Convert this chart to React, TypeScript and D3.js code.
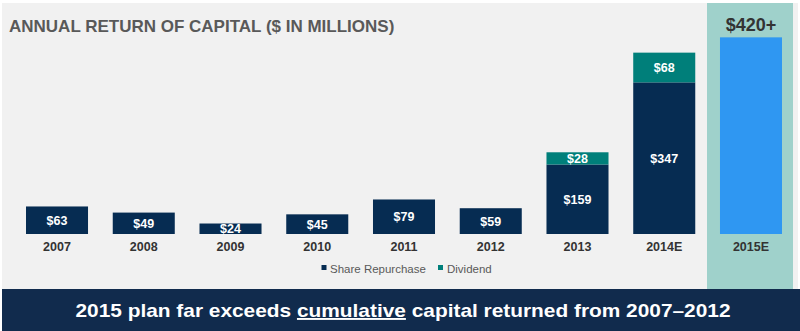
import React from "react";
import * as d3 from "d3";

const categories = ["2007", "2008", "2009", "2010", "2011", "2012", "2013", "2014E"];
const repurchase = [63, 49, 24, 45, 79, 59, 159, 347];
const dividend = [0, 0, 0, 0, 0, 0, 28, 68];
const planCategory = "2015E";
const planValue = 450;
const planLabel = "$420+";
const title = "ANNUAL RETURN OF CAPITAL ($ IN MILLIONS)";
const footer = ["2015 plan far exceeds ", "cumulative", " capital returned from 2007\u20132012"];

const W = 800;
const H = 331;
const NAVY = "#062c52";
const TEAL = "#007f7a";
const BLUE = "#2f97f2";
const BAND = "#9fd1cb";
const BG = "#f1f1f1";
const FOOT = "#112b4d";
const FONT = "'Liberation Sans', Arial, sans-serif";

export default function App() {
  const allCats = [...categories, planCategory];
  const x = d3.scaleBand<string>().domain(allCats).range([26, 782]).paddingInner(0.285).paddingOuter(0);
  const xs = (c: string) => x(c) as number;
  const y = d3.scaleLinear().domain([0, 100]).range([234, 190.3]);
  const bw = x.bandwidth();

  return (
    <svg width={W} height={H} style={{ position: "absolute", left: 0, top: 0 }} fontFamily={FONT}>
      <rect x={0} y={0} width={W} height={H} fill="#ffffff" />
      <rect x={2} y={3} width={796} height={288} fill={BG} />
      <rect x={707} y={3} width={86} height={288} fill={BAND} />
      <text x={9} y={32} fontSize={17} fontWeight="bold" fill="#595959">{title}</text>
      {categories.map((c, i) => {
        const x0 = xs(c);
        const r = repurchase[i];
        const d = dividend[i];
        return (
          <g key={c}>
            <rect x={x0} y={y(r)} width={bw} height={y(0) - y(r)} fill={NAVY} />
            {d > 0 && <rect x={x0} y={y(r + d)} width={bw} height={y(r) - y(r + d)} fill={TEAL} />}
            <text x={x0 + bw / 2} y={(y(r) + y(0)) / 2 + 4.5} textAnchor="middle" fontSize={12.5} fontWeight="bold" fill="#ffffff">${r}</text>
            {d > 0 && (
              <text x={x0 + bw / 2} y={(y(r + d) + y(r)) / 2 + 4.5} textAnchor="middle" fontSize={12.5} fontWeight="bold" fill="#ffffff">${d}</text>
            )}
            <text x={x0 + bw / 2} y={251} textAnchor="middle" fontSize={12.5} fontWeight="bold" fill="#333333">{c}</text>
          </g>
        );
      })}
      <rect x={xs(planCategory)} y={y(planValue)} width={bw} height={y(0) - y(planValue)} fill={BLUE} />
      <text x={xs(planCategory) + bw / 2} y={31} textAnchor="middle" fontSize={18} fontWeight="bold" fill="#333333">{planLabel}</text>
      <text x={xs(planCategory) + bw / 2} y={251} textAnchor="middle" fontSize={12.5} fontWeight="bold" fill="#333333">{planCategory}</text>
      <rect x={321.5} y={265} width={5} height={5} fill={NAVY} />
      <text x={330} y={273} fontSize={11.5} fill="#595959">Share Repurchase</text>
      <rect x={438} y={265} width={5} height={5} fill={TEAL} />
      <text x={447} y={273} fontSize={11.5} fill="#595959">Dividend</text>
      <rect x={2} y={289} width={798} height={42} fill={FOOT} />
      <text x={403} y={317} textAnchor="middle" fontSize={19} fontWeight="bold" fill="#ffffff" textLength={655} lengthAdjust="spacingAndGlyphs">
        <tspan>{footer[0]}</tspan>
        <tspan textDecoration="underline">{footer[1]}</tspan>
        <tspan>{footer[2]}</tspan>
      </text>
    </svg>
  );
}
